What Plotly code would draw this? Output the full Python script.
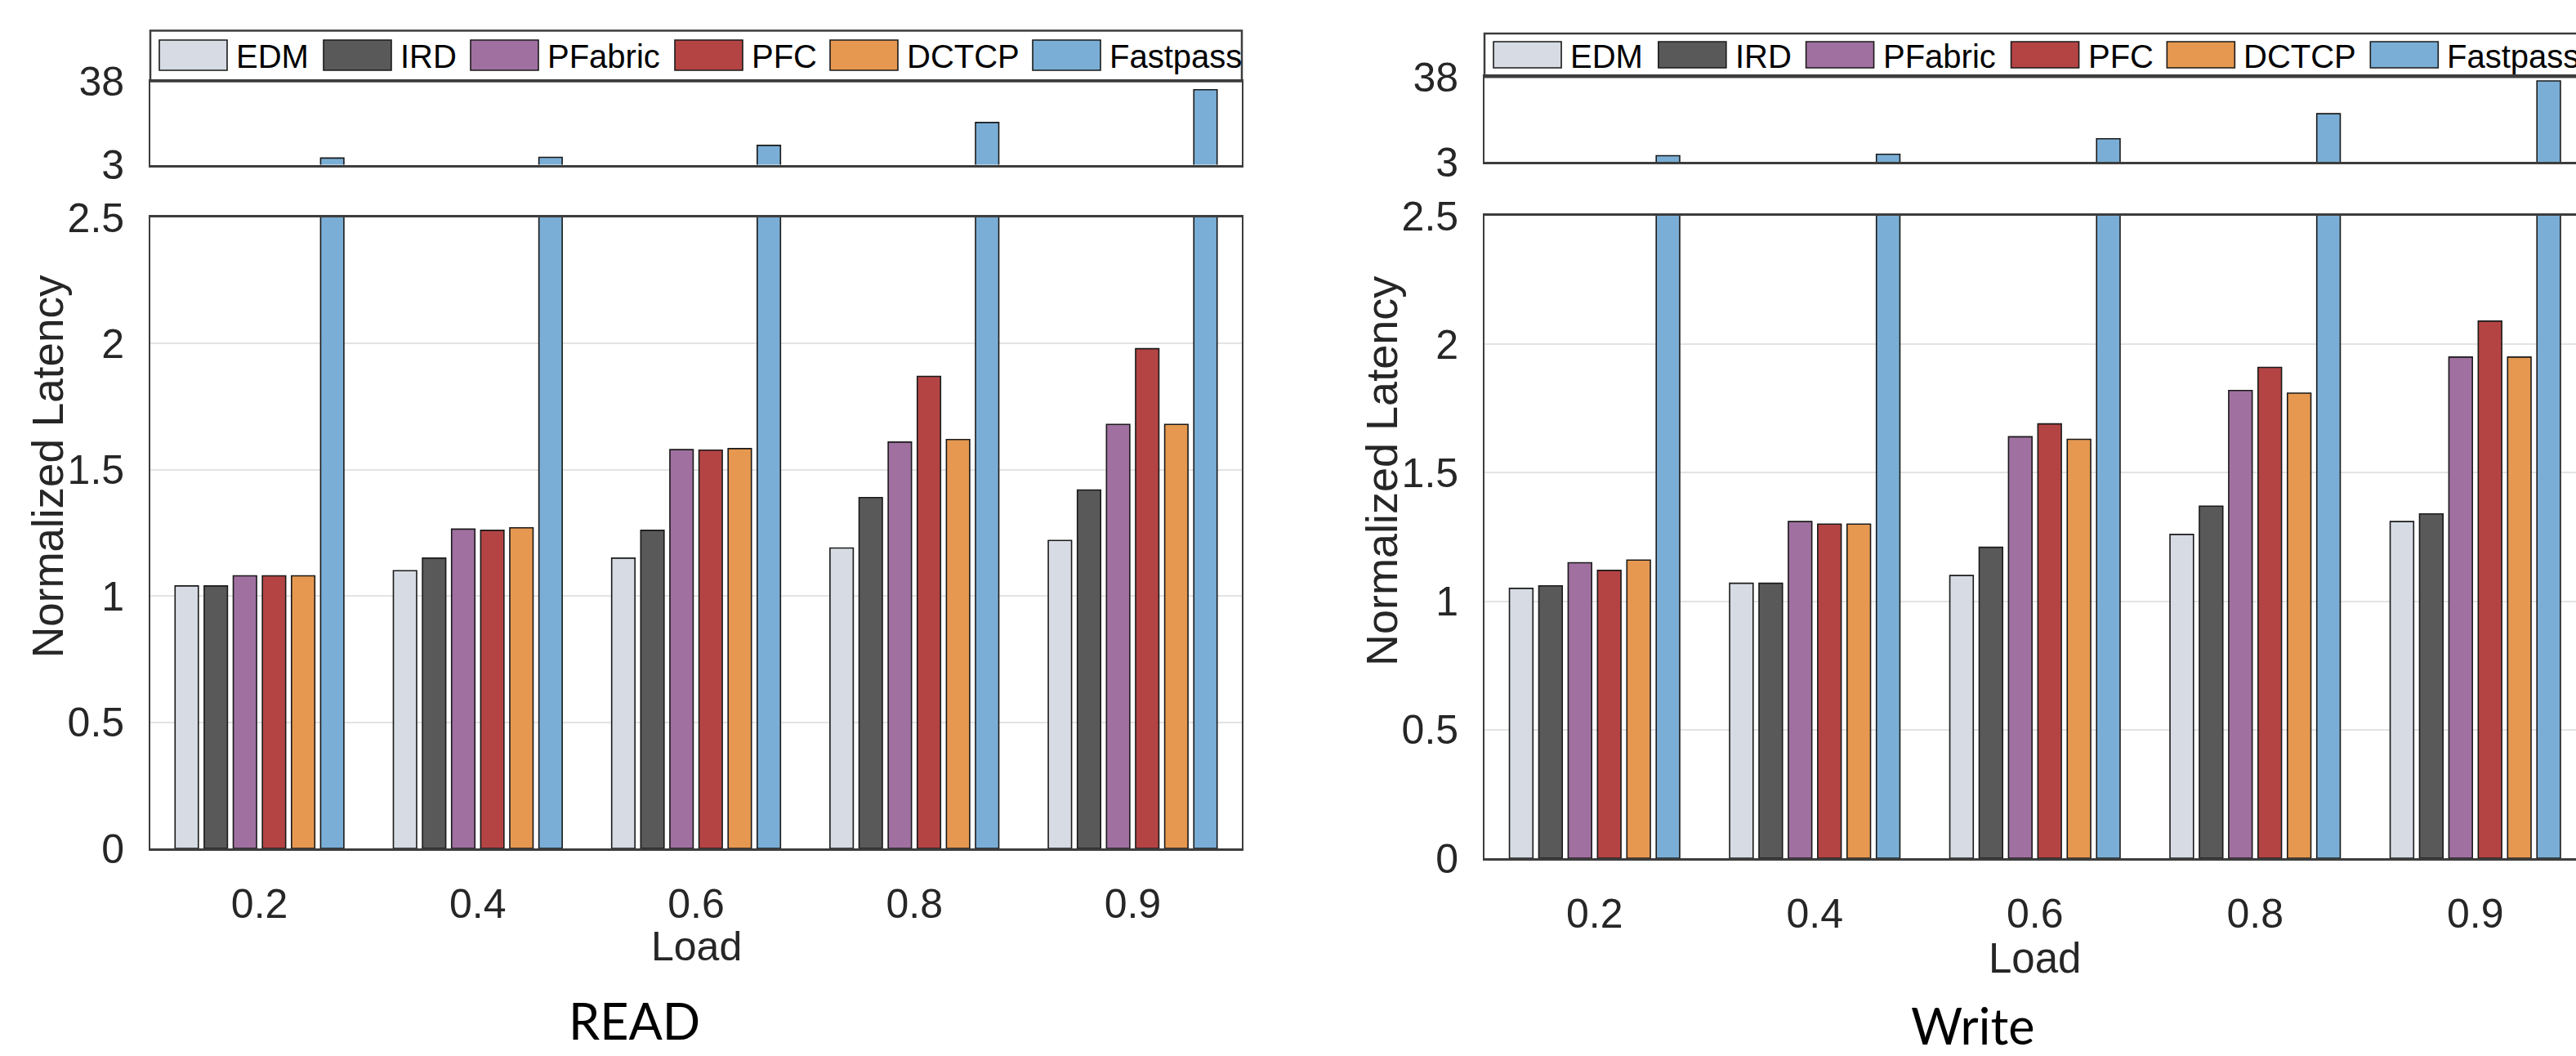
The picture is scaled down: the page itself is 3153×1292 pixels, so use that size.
import plotly.graph_objects as go

# ---------------- data ----------------
loads = ['0.2', '0.4', '0.6', '0.8', '0.9']
schemes = ['EDM', 'IRD', 'PFabric', 'PFC', 'DCTCP', 'Fastpass']
colors = ['#D6DBE4', '#595959', '#A070A0', '#B44444', '#E69850', '#7AAED6']

read_edm = [1.04, 1.10, 1.15, 1.19, 1.22]
read_ird = [1.04, 1.15, 1.26, 1.39, 1.42]
read_pfabric = [1.08, 1.265, 1.58, 1.61, 1.68]
read_pfc = [1.08, 1.26, 1.578, 1.87, 1.98]
read_dctcp = [1.08, 1.27, 1.584, 1.62, 1.68]
read_fastpass = [5.8, 6.1, 11.1, 20.7, 34.5]

write_edm = [1.05, 1.07, 1.10, 1.26, 1.31]
write_ird = [1.06, 1.07, 1.21, 1.37, 1.34]
write_pfabric = [1.15, 1.31, 1.64, 1.82, 1.95]
write_pfc = [1.12, 1.30, 1.69, 1.91, 2.09]
write_dctcp = [1.16, 1.30, 1.63, 1.81, 1.95]
write_fastpass = [5.6, 6.2, 12.6, 22.9, 36.4]

lower_ticks = [0, 0.5, 1, 1.5, 2, 2.5]
lower_ticktext = ['0', '0.5', '1', '1.5', '2', '2.5']
upper_ticks = [3, 38]
upper_ticktext = ['3', '38']

read_series = [read_edm, read_ird, read_pfabric, read_pfc, read_dctcp, read_fastpass]
write_series = [write_edm, write_ird, write_pfabric, write_pfc, write_dctcp, write_fastpass]

# ---------------- layout helpers ----------------
W, H = 3153, 1292
FONT = 'Liberation Sans, Arial, Helvetica, sans-serif'
TITLE_FONT = 'Lato, Carlito, Calibri, sans-serif'
TICKC = '#262626'
LINEC = '#3d3d3d'


def px(x):
    return x / W


def py(y):
    return 1 - y / H


fig = go.Figure()

panels = [
    dict(series=read_series, xl='x', yl='y', xu='x2', yu='y2',
         x0=184, x1=1520, pitch=None, low=(266, 1038), up=(99.5, 201.5),
         leg=(37.5, 99.5), sw=(49, 86), mirror_y=True),
    dict(series=write_series, xl='x3', yl='y3', xu='x4', yu='y4',
         x0=1817, x1=3153, pitch=269.5, low=(264, 1050), up=(94.3, 198.3),
         leg=(41, 94.3), sw=(51, 83), mirror_y=False),
]

for p in panels:
    for xa, ya in [(p['xl'], p['yl']), (p['xu'], p['yu'])]:
        for name, vals, col in zip(schemes, p['series'], colors):
            fig.add_trace(go.Bar(
                x=loads, y=vals, name=name, xaxis=xa, yaxis=ya,
                marker=dict(color=col, line=dict(color='#1a1a1a', width=1.6)),
                showlegend=False, hoverinfo='x+y+name'))

common_x = dict(type='category', showgrid=False, zeroline=False, ticks='',
                showline=True, linecolor=LINEC, linewidth=3, mirror=True,
                automargin=False,
                tickfont=dict(family=FONT, size=50, color=TICKC),
                ticklabelstandoff=22)
common_y = dict(zeroline=False, ticks='', showline=True, linecolor=LINEC,
                linewidth=1.8, automargin=False,
                tickfont=dict(family=FONT, size=50, color=TICKC),
                ticklabelstandoff=20)

layout = dict(
    template='none',
    width=W, height=H, margin=dict(l=0, r=0, t=0, b=0, pad=0, autoexpand=False),
    paper_bgcolor='white', plot_bgcolor='white',
    barmode='group', bargap=0.2, bargroupgap=0.2, showlegend=False,
    font=dict(family=FONT),
)

for i, p in enumerate(panels):
    if p['pitch'] is None:
        xr = [-0.5, 4.5]
    else:
        xr = [-0.5, -0.5 + (p['x1'] - p['x0']) / p['pitch']]
    dom = [px(p['x0']), px(p['x1'])]
    xl_name = 'xaxis' if p['xl'] == 'x' else 'xaxis' + p['xl'][1:]
    yl_name = 'yaxis' if p['yl'] == 'y' else 'yaxis' + p['yl'][1:]
    xu_name = 'xaxis' + p['xu'][1:]
    yu_name = 'yaxis' + p['yu'][1:]
    layout[xl_name] = dict(common_x, domain=dom, range=xr, anchor=p['yl'])
    layout[xu_name] = dict(common_x, domain=dom, range=xr, anchor=p['yu'],
                           showticklabels=False)
    layout[yl_name] = dict(common_y, domain=[py(p['low'][1]), py(p['low'][0])],
                           range=[0, 2.5], tickvals=lower_ticks,
                           ticktext=lower_ticktext, anchor=p['xl'],
                           showgrid=True, gridcolor='#E3E3E3', gridwidth=2,
                           mirror=p['mirror_y'])
    layout[yu_name] = dict(common_y, domain=[py(p['up'][1]), py(p['up'][0])],
                           range=[3, 38], tickvals=upper_ticks,
                           ticktext=upper_ticktext, anchor=p['xu'],
                           showgrid=False, mirror=p['mirror_y'])

fig.update_layout(**layout)

# ---------------- custom legends ----------------
item_offsets = [11, 212, 392, 642, 832, 1080]
shapes = []
annotations = []
for p in panels:
    ltop, lbot = p['leg']
    shapes.append(dict(type='rect', xref='paper', yref='paper',
                       x0=px(p['x0']), x1=px(p['x1']) if p['mirror_y'] else px(W + 20),
                       y0=py(lbot), y1=py(ltop),
                       line=dict(color=LINEC, width=2.5), fillcolor='white',
                       layer='below'))
    s_top, s_bot = p['sw']
    scale = 1.0 if p['pitch'] is None else 1.004
    for off, name, col in zip(item_offsets, schemes, colors):
        sx = p['x0'] + off * scale
        shapes.append(dict(type='rect', xref='paper', yref='paper',
                           x0=px(sx), x1=px(sx + 83), y0=py(s_bot), y1=py(s_top),
                           line=dict(color='#1a1a1a', width=1.6), fillcolor=col))
        annotations.append(dict(xref='paper', yref='paper', x=px(sx + 92),
                                y=py((s_top + s_bot) / 2 + 2), text=name,
                                showarrow=False, xanchor='left', yanchor='middle',
                                font=dict(family=FONT, size=40, color='black')))

# titles
titles = [
    dict(x=px(58), y=py(571), text='Normalized Latency', textangle=-90,
         font=dict(family=FONT, size=53, color=TICKC)),
    dict(x=px(1691), y=py(576), text='Normalized Latency', textangle=-90,
         font=dict(family=FONT, size=54, color=TICKC)),
    dict(x=px(852), y=py(1158), text='Load',
         font=dict(family=FONT, size=50, color=TICKC)),
    dict(x=px(2490), y=py(1172), text='Load',
         font=dict(family=FONT, size=51, color=TICKC)),
]
for a in titles:
    a.update(xref='paper', yref='paper', showarrow=False,
             xanchor='center', yanchor='middle')
annotations += titles

annotations += [
    dict(xref='paper', yref='paper', x=px(776), y=0, yanchor='bottom',
         xanchor='center', showarrow=False, text='READ', yshift=6, borderpad=0,
         font=dict(family=TITLE_FONT, size=61, color='black')),
    dict(xref='paper', yref='paper', x=px(2414), y=0, yanchor='bottom',
         xanchor='center', showarrow=False, text='Write', yshift=0, borderpad=0,
         font=dict(family=TITLE_FONT, size=61, color='black')),
]

fig.update_layout(shapes=shapes, annotations=annotations)
fig.write_html('out.html', config={'displayModeBar': False},
               post_script="document.body.style.margin='0';document.body.style.overflow='hidden';")
